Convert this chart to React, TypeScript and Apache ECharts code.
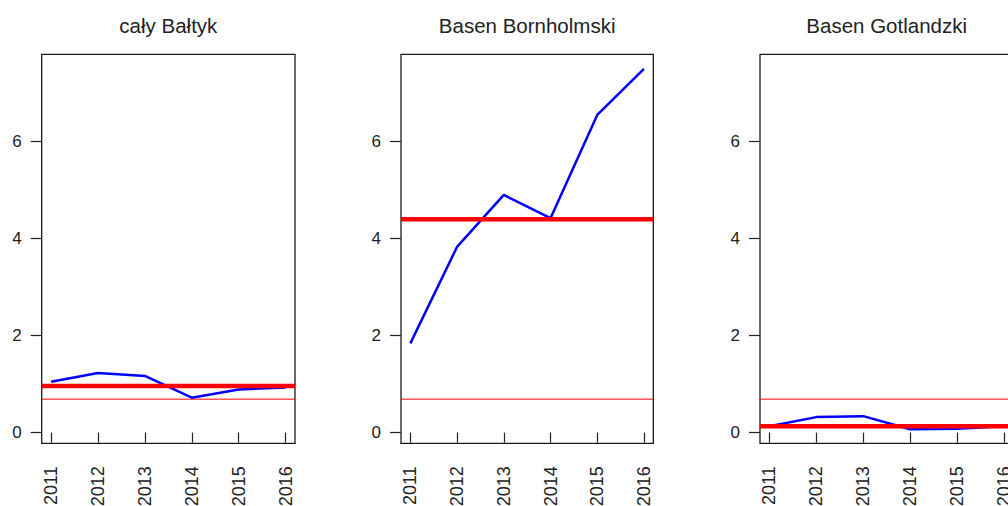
import React, { useEffect, useRef } from "react";
import * as echarts from "echarts";

const years = [2011, 2012, 2013, 2014, 2015, 2016];
const panelTitles = ["cały Bałtyk", "Basen Bornholmski", "Basen Gotlandzki"];
const calyBaltyk = [1.05, 1.23, 1.17, 0.72, 0.89, 0.93];
const basenBornholmski = [1.84, 3.83, 4.9, 4.42, 6.55, 7.5];
const basenGotlandzki = [0.13, 0.32, 0.34, 0.07, 0.08, 0.13];
const meanLevels = [0.96, 4.4, 0.13];
const thresholdLevel = 0.69;
const yTicks = [0, 2, 4, 6];
const xRange = [2010.8, 2016.2];
const yRange = [-0.22, 7.8];

const seriesValues = [calyBaltyk, basenBornholmski, basenGotlandzki];
const gridLefts = [41.7, 401, 760];
const gridWidths = [253.3, 252.3, 253.3];
const FONT = "Liberation Sans, Arial, sans-serif";

export default function App() {
  const ref = useRef<HTMLDivElement>(null);
  useEffect(() => {
    if (!ref.current) return;
    const chart = echarts.init(ref.current, null, { renderer: "svg" });
    const grids = gridLefts.map((l, i) => ({
      left: l,
      top: 54.3,
      width: gridWidths[i],
      height: 389,
      show: true,
      containLabel: false,
      outerBoundsMode: "none",
      borderColor: "#1a1a1a",
      borderWidth: 1.3,
      backgroundColor: "#ffffff",
    }));
    const xAxes = gridLefts.map((_, i) => ({
      type: "value",
      gridIndex: i,
      min: xRange[0],
      max: xRange[1],
      axisLine: { show: false },
      splitLine: { show: false },
      axisTick: {
        show: true,
        length: 10,
        customValues: years,
        lineStyle: { color: "#222", width: 1.2 },
      },
      axisLabel: {
        show: true,
        rotate: 90,
        margin: 23,
        customValues: years,
        color: "#222",
        fontSize: 18,
        fontFamily: FONT,
        hideOverlap: false,
        formatter: (v: number) => String(v),
      },
    }));
    const yAxes = gridLefts.map((_, i) => ({
      type: "value",
      gridIndex: i,
      min: yRange[0],
      max: yRange[1],
      axisLine: { show: false },
      splitLine: { show: false },
      axisTick: {
        show: true,
        length: 11,
        customValues: yTicks,
        lineStyle: { color: "#222", width: 1.2 },
      },
      axisLabel: {
        show: true,
        margin: 20,
        customValues: yTicks,
        color: "#222",
        fontSize: 17,
        fontFamily: FONT,
        formatter: (v: number) => String(v),
      },
    }));
    const series: any[] = [];
    seriesValues.forEach((vals, i) => {
      series.push({
        type: "line",
        xAxisIndex: i,
        yAxisIndex: i,
        data: xRange.map((x) => [x, thresholdLevel]),
        showSymbol: false,
        symbol: "none",
        silent: true,
        itemStyle: { color: "#ff0000" },
        lineStyle: { color: "#ff0000", width: 1 },
        z: 2,
      });
      series.push({
        type: "line",
        xAxisIndex: i,
        yAxisIndex: i,
        data: years.map((y, k) => [y, vals[k]]),
        showSymbol: false,
        symbol: "none",
        itemStyle: { color: "#0000ff" },
        lineStyle: { color: "#0000ff", width: 2.5 },
        z: 3,
      });
      series.push({
        type: "line",
        xAxisIndex: i,
        yAxisIndex: i,
        data: xRange.map((x) => [x, meanLevels[i]]),
        showSymbol: false,
        symbol: "none",
        silent: true,
        itemStyle: { color: "#ff0000" },
        lineStyle: { color: "#ff0000", width: 4.5 },
        z: 4,
      });
    });
    const titles = panelTitles.map((t, i) => ({
      text: t,
      left: gridLefts[i] + gridWidths[i] / 2 - 5,
      textAlign: "center",
      top: 10,
      textStyle: { fontSize: 20.5, fontWeight: "normal", color: "#222", fontFamily: FONT },
    }));
    chart.setOption({
      animation: false,
      backgroundColor: "#ffffff",
      title: titles,
      grid: grids,
      xAxis: xAxes,
      yAxis: yAxes,
      series,
    });
    return () => chart.dispose();
  }, []);
  return (
    <div
      ref={ref}
      style={{ position: "absolute", left: 0, top: 0, width: 1008, height: 506 }}
    />
  );
}
